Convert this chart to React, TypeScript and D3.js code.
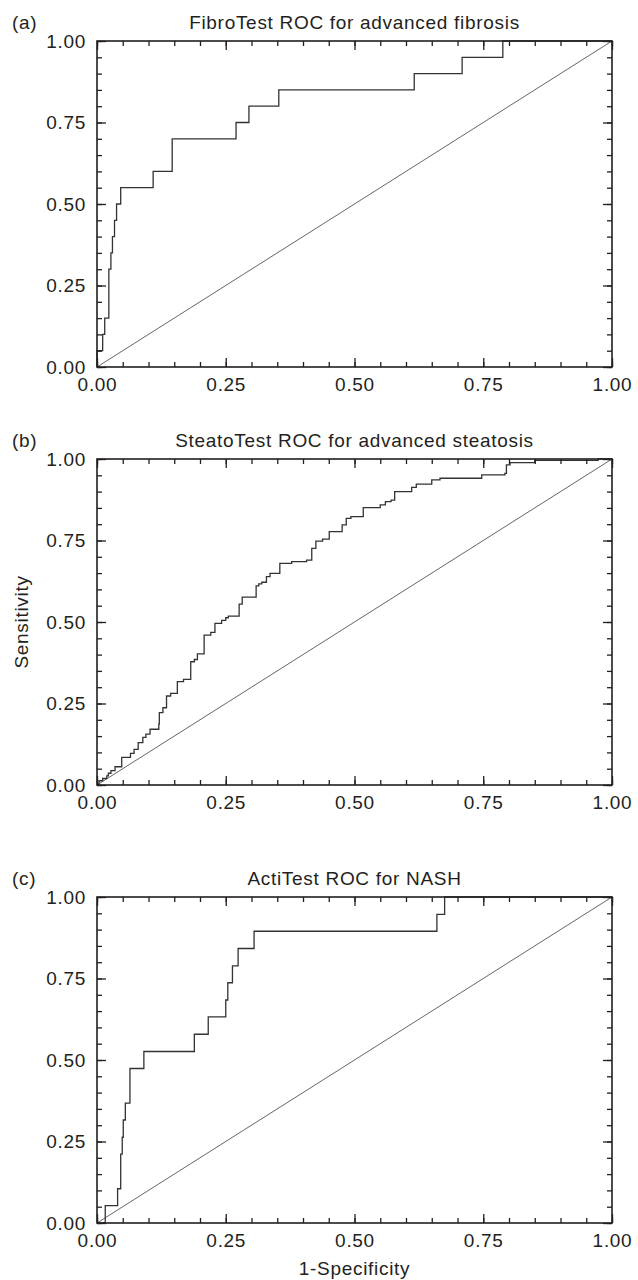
import React, { useRef, useEffect } from "react";
import * as d3 from "d3";

const panelLetters = ["(a)", "(b)", "(c)"];
const panelTitles = [
  "FibroTest ROC for advanced fibrosis",
  "SteatoTest ROC for advanced steatosis",
  "ActiTest ROC for NASH",
];
const tickLabels = ["0.00", "0.25", "0.50", "0.75", "1.00"];
const xTitle = "1-Specificity";
const yTitle = "Sensitivity";

// (a) FibroTest - corners of the step curve (1-specificity, sensitivity)
const fibroFpr = [0, 0, 0.011, 0.015, 0.023, 0.027, 0.030, 0.034, 0.038, 0.046, 0.109, 0.146, 0.270, 0.295, 0.353, 0.616, 0.709, 0.788, 1];
const fibroSens = [0, 0.05, 0.10, 0.15, 0.30, 0.35, 0.40, 0.45, 0.50, 0.55, 0.60, 0.70, 0.75, 0.80, 0.85, 0.90, 0.95, 1, 1];

// (b) SteatoTest
const steatoFpr = [
  0, 0.004, 0.011, 0.019, 0.022, 0.027, 0.035, 0.048, 0.065, 0.072, 0.080, 0.089, 0.095, 0.103, 0.120,
  0.121, 0.128, 0.135, 0.143, 0.156, 0.168, 0.182, 0.189, 0.195, 0.208, 0.221, 0.229, 0.242, 0.250, 0.255,
  0.276, 0.282, 0.309, 0.314, 0.320, 0.329, 0.336, 0.355, 0.378, 0.407, 0.417, 0.425, 0.438, 0.451, 0.476,
  0.484, 0.493, 0.517, 0.550, 0.560, 0.571, 0.578, 0.611, 0.620, 0.650, 0.666, 0.747, 0.792, 0.795, 0.802,
  0.850, 0.973, 1,
];
const steatoSens = [
  0, 0.013, 0.020, 0.028, 0.036, 0.044, 0.056, 0.085, 0.097, 0.109, 0.130, 0.146, 0.156, 0.171, 0.187,
  0.222, 0.237, 0.273, 0.281, 0.317, 0.324, 0.378, 0.385, 0.402, 0.460, 0.468, 0.496, 0.505, 0.513, 0.518,
  0.555, 0.576, 0.611, 0.617, 0.622, 0.639, 0.649, 0.680, 0.685, 0.690, 0.726, 0.748, 0.754, 0.777, 0.798,
  0.818, 0.823, 0.851, 0.859, 0.869, 0.874, 0.900, 0.913, 0.923, 0.936, 0.941, 0.951, 0.956, 0.982, 0.989,
  0.996, 1, 1,
];

// (c) ActiTest
const actiFpr = [0, 0.016, 0.040, 0.046, 0.049, 0.051, 0.055, 0.064, 0.091, 0.189, 0.216, 0.250, 0.254, 0.263, 0.274, 0.305, 0.660, 0.675, 1];
const actiSens = [0, 0.053, 0.105, 0.211, 0.263, 0.316, 0.368, 0.474, 0.526, 0.579, 0.632, 0.684, 0.737, 0.789, 0.842, 0.895, 0.947, 1, 1];

const curves = [
  [fibroFpr, fibroSens],
  [steatoFpr, steatoSens],
  [actiFpr, actiSens],
];

const W = 638;
const H = 1280;
const plotLeft = 97;
const plotW = 515;
const plotH = 326;
const panelTops = [41, 459, 897];
const ink = "#231f20";
const font = "'Liberation Sans', Arial, sans-serif";

const App = () => {
  const svgRef = useRef(null);

  useEffect(() => {
    document.body.style.margin = "0";
    const svg = d3.select(svgRef.current);
    svg.selectAll("*").remove();

    const x = d3.scaleLinear().domain([0, 1]).range([0, plotW]);
    const y = d3.scaleLinear().domain([0, 1]).range([plotH, 0]);
    const minor = x.ticks(20);
    const major = tickLabels.map(Number);

    const line = d3
      .line()
      .x((d) => x(d[0]))
      .y((d) => y(d[1]))
      .curve(d3.curveStepAfter);

    const styleText = (sel) =>
      sel
        .attr("font-family", font)
        .attr("font-size", 19)
        .attr("letter-spacing", 0.7)
        .attr("fill", ink);

    curves.forEach(([fpr, sens], i) => {
      const top = panelTops[i];
      const g = svg.append("g").attr("transform", `translate(${plotLeft},${top})`);

      // panel letter + title
      styleText(g.append("text").attr("x", 12 - plotLeft).attr("y", -12).text(panelLetters[i]));
      styleText(
        g.append("text").attr("x", plotW / 2).attr("y", -12).attr("text-anchor", "middle").text(panelTitles[i])
      );

      // diagonal reference
      g.append("line")
        .attr("x1", x(0)).attr("y1", y(0))
        .attr("x2", x(1)).attr("y2", y(1))
        .attr("stroke", "#555").attr("stroke-width", 0.9);

      // ROC step curve
      g.append("path")
        .datum(fpr.map((f, k) => [f, sens[k]]))
        .attr("d", line)
        .attr("fill", "none")
        .attr("stroke", "#333")
        .attr("stroke-width", 1.3);

      // inward ticks on all four sides
      const sides = [
        [d3.axisBottom(x), `translate(0,${plotH})`],
        [d3.axisTop(x), "translate(0,0)"],
        [d3.axisLeft(y), "translate(0,0)"],
        [d3.axisRight(y), `translate(${plotW},0)`],
      ];
      sides.forEach(([axis, tr]) => {
        [[minor, -5], [major, -9]].forEach(([vals, size]) => {
          const a = g.append("g").attr("transform", tr)
            .call(axis.tickValues(vals).tickSize(size).tickFormat(() => ""));
          a.select(".domain").remove();
          a.selectAll("line").attr("stroke", ink).attr("stroke-width", 1.3);
        });
      });

      // tick labels
      const bx = g.append("g").attr("transform", `translate(0,${plotH})`)
        .call(d3.axisBottom(x).tickValues(major).tickSize(0).tickPadding(11).tickFormat((d, k) => tickLabels[k]));
      bx.select(".domain").remove();
      styleText(bx.selectAll("text"));
      const ly = g.append("g")
        .call(d3.axisLeft(y).tickValues(major).tickSize(0).tickPadding(11).tickFormat((d, k) => tickLabels[k]));
      ly.select(".domain").remove();
      styleText(ly.selectAll("text"));

      // frame
      g.append("rect")
        .attr("width", plotW).attr("height", plotH)
        .attr("fill", "none").attr("stroke", ink).attr("stroke-width", 1.6);
    });

    // axis titles
    const midB = panelTops[1] + plotH / 2;
    styleText(
      svg.append("text")
        .attr("transform", `translate(28,${midB}) rotate(-90)`)
        .attr("text-anchor", "middle")
        .text(yTitle)
    );
    styleText(
      svg.append("text")
        .attr("x", plotLeft + plotW / 2)
        .attr("y", 1275)
        .attr("text-anchor", "middle")
        .text(xTitle)
    );
  }, []);

  return (
    <svg ref={svgRef} width={W} height={H} style={{ display: "block", background: "#fff" }}></svg>
  );
};

export default App;
